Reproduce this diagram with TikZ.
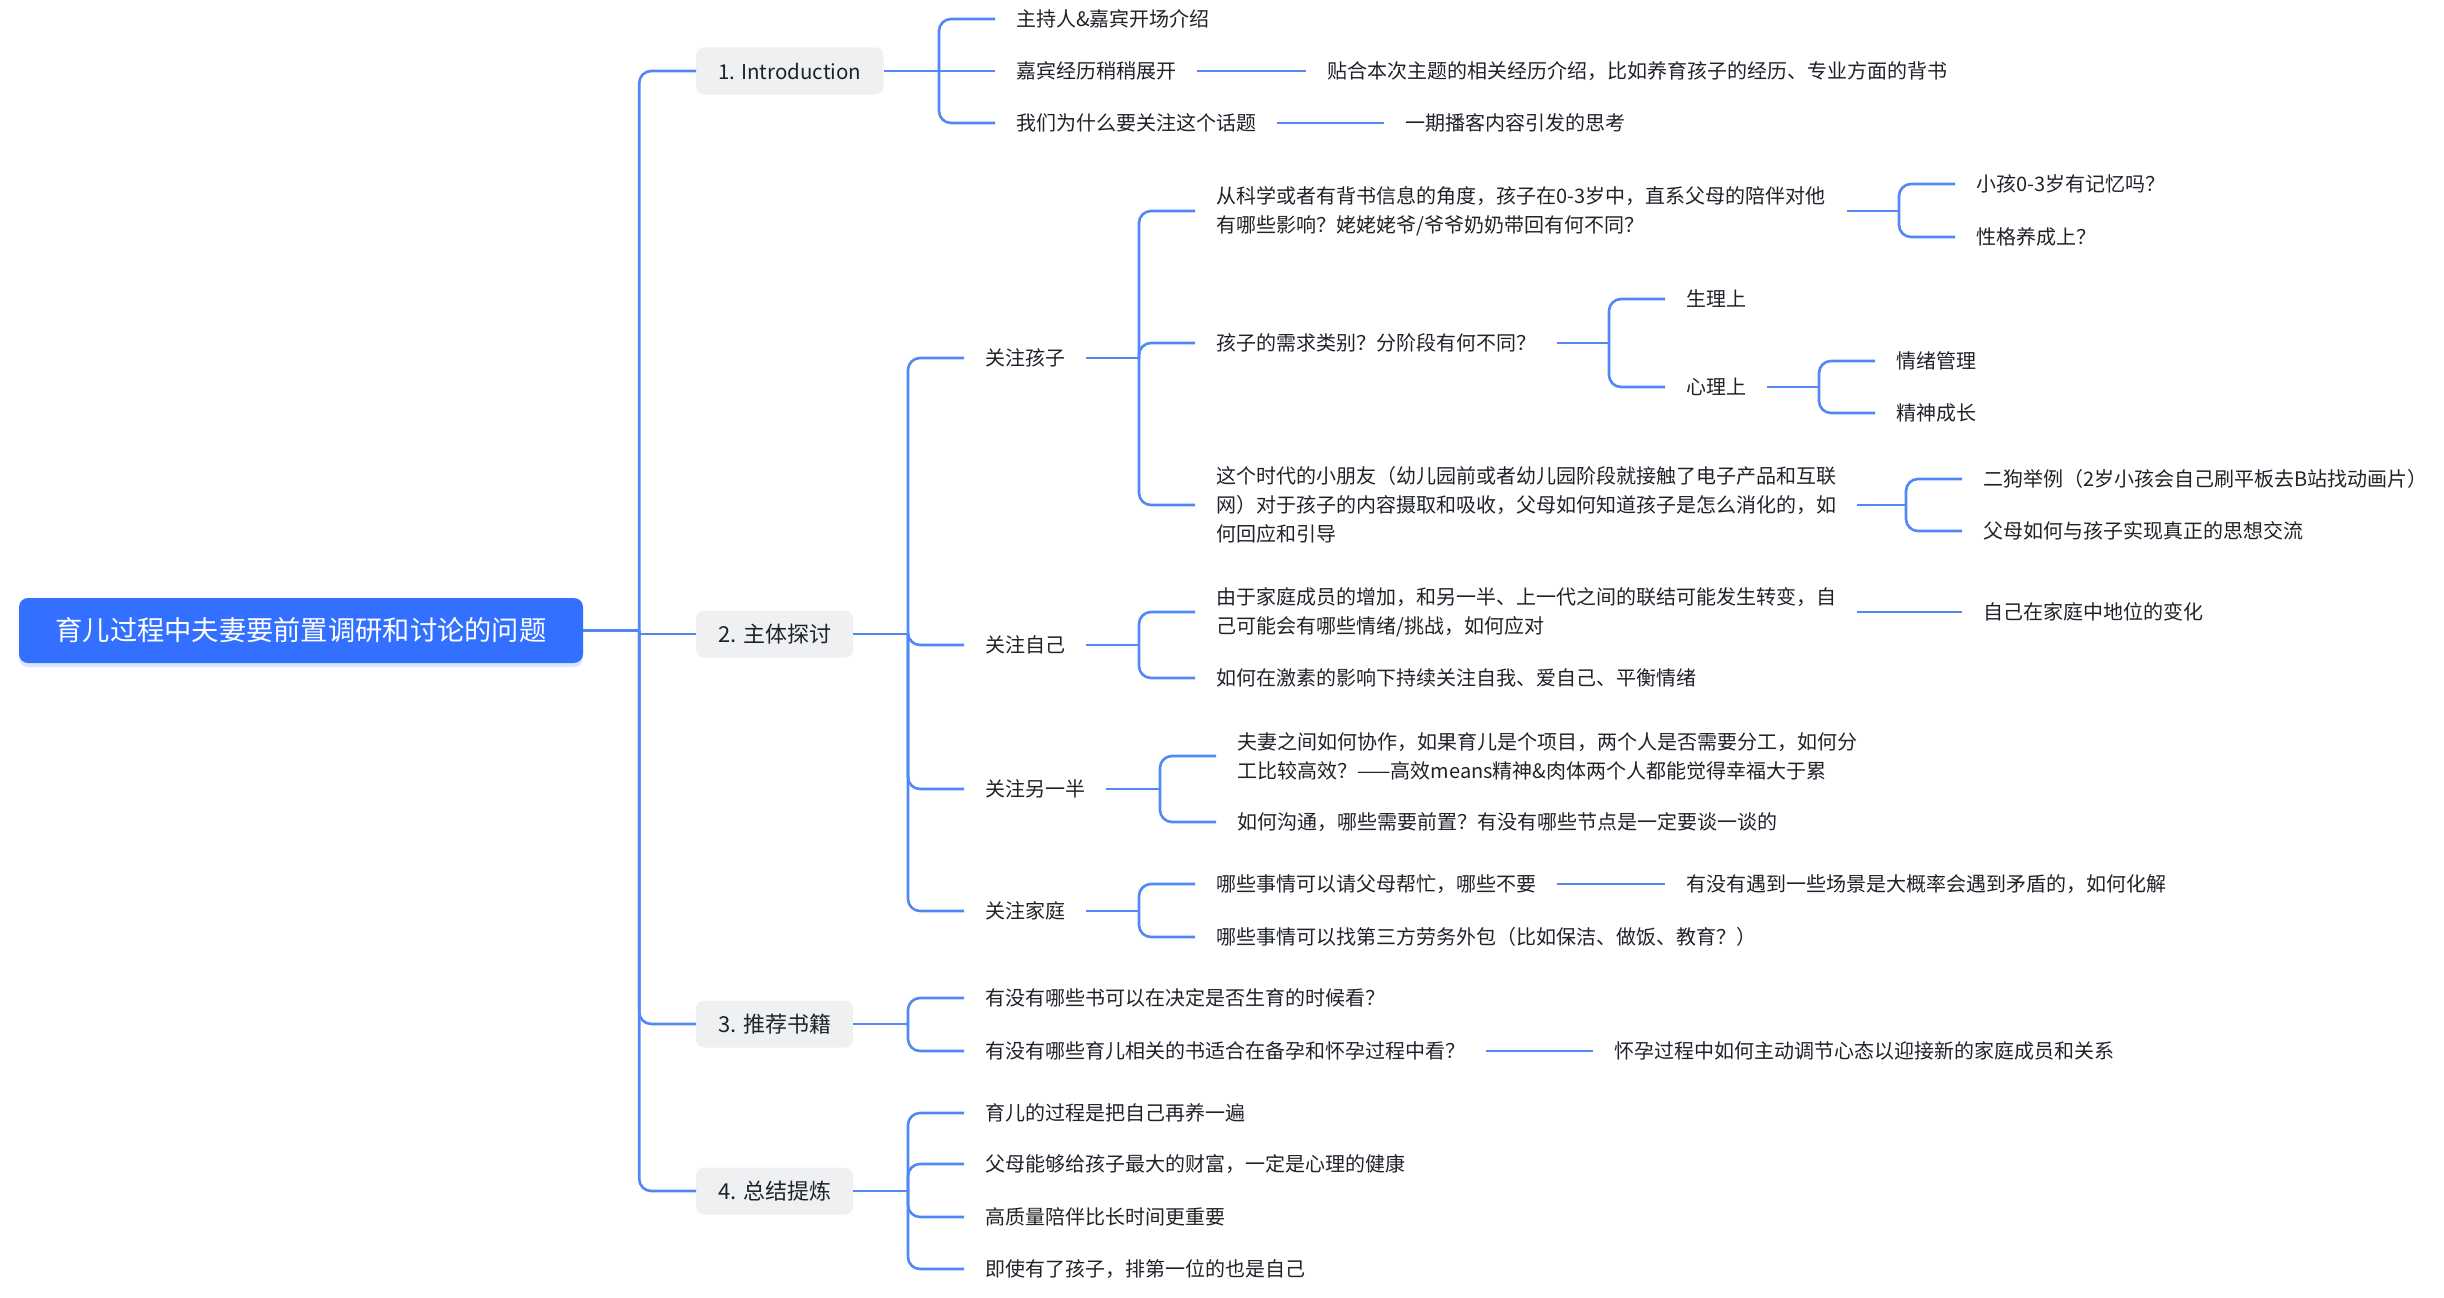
\documentclass[tikz,border=0pt]{standalone}
\usepackage{fontspec}
\usepackage{graphicx}
\setmainfont{Noto Sans CJK SC}
\usetikzlibrary{calc,shadows}
\definecolor{rootblue}{HTML}{3370FF}
\definecolor{lineblue}{HTML}{5288F5}
\definecolor{lonefill}{HTML}{EFF0F1}
\definecolor{txt}{HTML}{1F2329}
\tikzset{
  conn/.style={draw=lineblue, line width=2.6pt},
  rc/.style={rounded corners=12pt},
  rootbox/.style={fill=rootblue, text=white, rounded corners=9pt, inner xsep=36.5pt, inner ysep=0pt,
    minimum height=65pt, font=\fontsize{26}{30}\selectfont,
    drop shadow={shadow xshift=0pt, shadow yshift=-4pt, opacity=0.18, fill=rootblue}},
  lone/.style={fill=lonefill, text=txt, rounded corners=8pt, inner xsep=22pt, inner ysep=0pt,
    minimum height=47pt, font=\fontsize{22}{28}\selectfont, anchor=west},
  leaf/.style={text=txt, inner xsep=21pt, inner ysep=2pt, font=\fontsize{20}{29}\selectfont,
    align=left, anchor=west},
}
% parent, reference child, curved children, straight children
\newcommand\mmfork[4]{%
  \coordinate (#1J) at ($(#2.west |- #1.east)+(-56,0)$);
  \draw[conn] (#1.east) -- (#1J);
  \foreach \c in {#3} {\draw[conn,rc] (#1J) |- (\c.west);}
  \foreach \c in {#4} {\draw[conn] (#1J) -- (\c.west);}
}
\begin{document}
\begin{tikzpicture}[x=1pt,y=-1pt]
\useasboundingbox (0,0) rectangle (2444,1298);

% root
\node[rootbox] (root) at (301,630.5) {\resizebox{491pt}{!}{育儿过程中夫妻要前置调研和讨论的问题}};
\coordinate (T) at ([xshift=56pt]root.east);

% level 1
\node[lone, font=\fontsize{20.5}{28}\selectfont] (L1) at (696,71) {1. Introduction};
\node[lone] (L2) at (696,634) {2. 主体探讨};
\node[lone] (L3) at (696,1024) {3. 推荐书籍};
\node[lone] (L4) at (696,1191) {4. 总结提炼};

\draw[conn] (root.east) -- (T);
\draw[conn,rc] (T) |- (L1.west);
\draw[conn] (T) |- (L2.west);
\draw[conn,rc] (T) |- (L3.west);
\draw[conn,rc] (T) |- (L4.west);

% 1. Introduction
\node[leaf] (i1) at (995,19) {主持人\&嘉宾开场介绍};
\node[leaf] (i2) at (995,71) {嘉宾经历稍稍展开};
\node[leaf] (i3) at (995,123) {我们为什么要关注这个话题};
\node[leaf] (i2a) at (1306,71) {贴合本次主题的相关经历介绍，比如养育孩子的经历、专业方面的背书};
\node[leaf] (i3a) at (1384,123) {一期播客内容引发的思考};
\mmfork{L1}{i1}{i1,i3}{i2}
\draw[conn] (i2.east) -- (i2a.west);
\draw[conn] (i3.east) -- (i3a.west);

% 2. main discussion
\node[leaf] (k) at (964,358) {关注孩子};
\node[leaf] (z) at (964,645) {关注自己};
\node[leaf] (b) at (964,789) {关注另一半};
\node[leaf] (f) at (964,911) {关注家庭};
\mmfork{L2}{k}{k,z,b,f}{}

% children
\node[leaf] (k1) at (1195,211) {从科学或者有背书信息的角度，孩子在0-3岁中，直系父母的陪伴对他\\有哪些影响？姥姥姥爷/爷爷奶奶带回有何不同？};
\node[leaf] (k2) at (1195,343) {孩子的需求类别？分阶段有何不同？};
\node[leaf] (k3) at (1195,505) {这个时代的小朋友（幼儿园前或者幼儿园阶段就接触了电子产品和互联\\网）对于孩子的内容摄取和吸收，父母如何知道孩子是怎么消化的，如\\何回应和引导};
\mmfork{k}{k1}{k1,k2,k3}{}

\node[leaf] (k1a) at (1955,184) {小孩0-3岁有记忆吗？};
\node[leaf] (k1b) at (1955,237) {性格养成上？};
\mmfork{k1}{k1a}{k1a,k1b}{}

\node[leaf] (k2a) at (1665,299) {生理上};
\node[leaf] (k2b) at (1665,387) {心理上};
\mmfork{k2}{k2a}{k2a,k2b}{}

\node[leaf] (k2b1) at (1875,361) {情绪管理};
\node[leaf] (k2b2) at (1875,413) {精神成长};
\mmfork{k2b}{k2b1}{k2b1,k2b2}{}

\node[leaf] (k3a) at (1962,479) {二狗举例（2岁小孩会自己刷平板去B站找动画片）};
\node[leaf] (k3b) at (1962,531) {父母如何与孩子实现真正的思想交流};
\mmfork{k3}{k3a}{k3a,k3b}{}

% self
\node[leaf] (z1) at (1195,612) {由于家庭成员的增加，和另一半、上一代之间的联结可能发生转变，自\\己可能会有哪些情绪/挑战，如何应对};
\node[leaf] (z2) at (1195,678) {如何在激素的影响下持续关注自我、爱自己、平衡情绪};
\mmfork{z}{z1}{z1,z2}{}
\node[leaf] (z1a) at (1962,612) {自己在家庭中地位的变化};
\draw[conn] (z1.east) -- (z1a.west);

% partner
\node[leaf] (b1) at (1216,756) {夫妻之间如何协作，如果育儿是个项目，两个人是否需要分工，如何分\\工比较高效？——高效means精神\&肉体两个人都能觉得幸福大于累};
\node[leaf] (b2) at (1216,822) {如何沟通，哪些需要前置？有没有哪些节点是一定要谈一谈的};
\mmfork{b}{b1}{b1,b2}{}

% family
\node[leaf] (f1) at (1195,884) {哪些事情可以请父母帮忙，哪些不要};
\node[leaf] (f2) at (1195,937) {哪些事情可以找第三方劳务外包（比如保洁、做饭、教育？）};
\mmfork{f}{f1}{f1,f2}{}
\node[leaf] (f1a) at (1665,884) {有没有遇到一些场景是大概率会遇到矛盾的，如何化解};
\draw[conn] (f1.east) -- (f1a.west);

% 3. books
\node[leaf] (s1) at (964,998) {有没有哪些书可以在决定是否生育的时候看？};
\node[leaf] (s2) at (964,1051) {有没有哪些育儿相关的书适合在备孕和怀孕过程中看？};
\mmfork{L3}{s1}{s1,s2}{}
\node[leaf] (s2a) at (1593,1051) {怀孕过程中如何主动调节心态以迎接新的家庭成员和关系};
\draw[conn] (s2.east) -- (s2a.west);

% 4. summary
\node[leaf] (t1) at (964,1113) {育儿的过程是把自己再养一遍};
\node[leaf] (t2) at (964,1164) {父母能够给孩子最大的财富，一定是心理的健康};
\node[leaf] (t3) at (964,1217) {高质量陪伴比长时间更重要};
\node[leaf] (t4) at (964,1269) {即使有了孩子，排第一位的也是自己};
\mmfork{L4}{t1}{t1,t2,t3,t4}{}
\end{tikzpicture}
\end{document}
